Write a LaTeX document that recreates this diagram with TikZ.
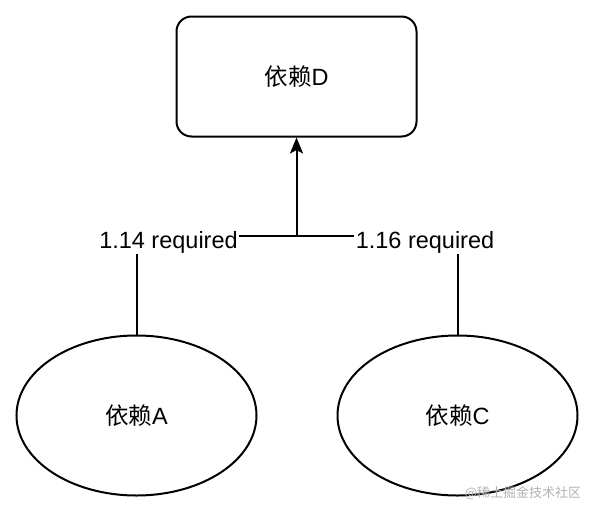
\documentclass[tikz,border=0pt]{standalone}
\usepackage{fontspec}
\setmainfont{Liberation Sans}
\newfontfamily\cjk{Noto Sans CJK SC}
\usetikzlibrary{arrows.meta,shapes.geometric}

\begin{document}
\begin{tikzpicture}[x=1pt,y=-1pt,
  txt/.style={font=\fontsize{23.5}{28}\selectfont},
  dbox/.style={draw,line width=2pt,rounded corners=15pt,minimum width=240pt,minimum height=120pt,txt},
  dep/.style={draw,ellipse,line width=2pt,minimum width=240pt,minimum height=160pt,inner sep=0pt,txt},
  ver/.style={fill=white,inner sep=1.5pt,anchor=base,txt},
  link/.style={line width=2pt}]
\useasboundingbox (0,0) rectangle (594,514);
\node[dbox] (D) at (296.5,76.5) {{\cjk 依赖}D};
\node[dep] (A) at (136.5,415.5) {{\cjk 依赖}A};
\node[dep] (C) at (457.5,415.5) {{\cjk 依赖}C};
\coordinate (J) at (D.south |- 0,236);
\draw[link] (A.north) |- (J);
\draw[link] (C.north) |- (J);
\draw[link,-{Stealth[length=16pt,width=13pt,inset=3.5pt]}] (J) -- (D.south);
\node[ver] (va) at (168.5,248) {1.14 required};
\node[ver] (vc) at (425,248) {1.16 required};
\node[text=black!30,font=\cjk\fontsize{13}{15}\selectfont] (wm) at (523,493) {@稀土掘金技术社区};
\end{tikzpicture}
\end{document}
